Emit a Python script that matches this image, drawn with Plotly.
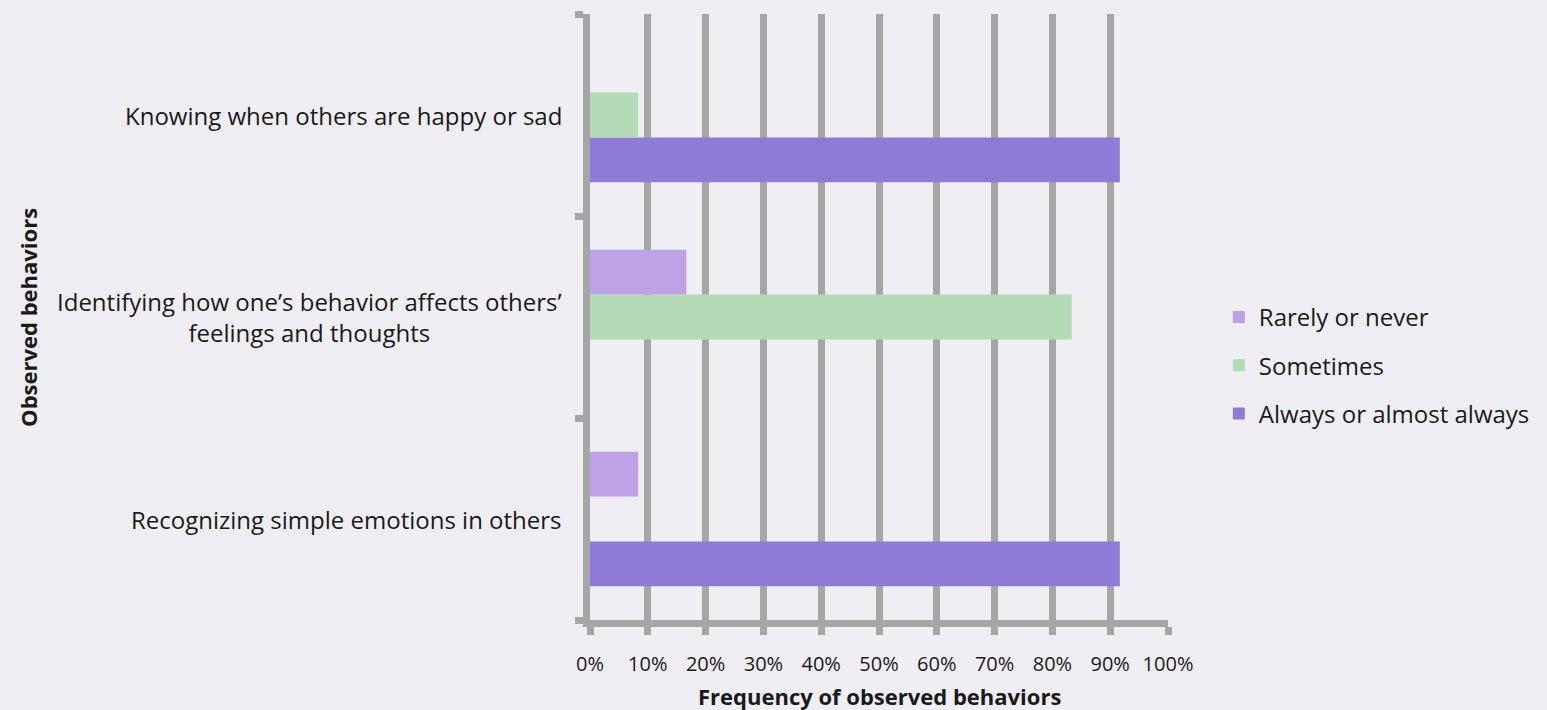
import plotly.graph_objects as go

# Observed behaviors, bottom to top on the category axis
categories = [
    "Recognizing simple emotions in others",
    "Identifying how one’s behavior affects others’<br>feelings and thoughts",
    "Knowing when others are happy or sad",
]

# Share of observations per response (percent)
always_vals = [91.67, 0, 91.67]
sometimes_vals = [0, 83.33, 8.33]
rarely_vals = [8.33, 16.67, 0]

x_ticks = [0, 10, 20, 30, 40, 50, 60, 70, 80, 90, 100]
x_tick_labels = ["0%", "10%", "20%", "30%", "40%", "50%",
                 "60%", "70%", "80%", "90%", "100%"]

FONT = "Open Sans"
TEXT = "#1a1a1a"
GRID = "#a6a6a6"
BG = "#efeef3"

PLOT_LEFT = 589.5
PLOT_WIDTH = 582.5

# (name, values, colour, legend rank) in drawing order: first trace sits lowest
series = [
    ("Always or almost always", always_vals, "#8f7bd5", 3),
    ("Sometimes", sometimes_vals, "#b3dbb5", 2),
    ("Rarely or never", rarely_vals, "#bda2e6", 1),
]

fig = go.Figure()
for name, vals, color, rank in series:
    fig.add_trace(go.Bar(
        y=categories, x=vals, name=name, orientation="h",
        marker=dict(color=color, line=dict(width=0)),
        legendgroup=name, legendrank=rank,
    ))

# Category labels, right-aligned beside the axis with centred line breaks
for cat in categories:
    fig.add_annotation(
        x=0, xref="paper", y=cat, yref="y", text=cat, showarrow=False,
        xanchor="right", yanchor="middle", align="center", xshift=-26,
        font=dict(family=FONT, size=24, color=TEXT),
    )

fig.add_annotation(
    x=0.5, xref="paper", y=0, yref="paper", yshift=-76,
    text="<b>Frequency of observed behaviors</b>", showarrow=False,
    xanchor="center", yanchor="middle",
    font=dict(family=FONT, size=22, color=TEXT),
)
fig.add_annotation(
    x=(23 - PLOT_LEFT) / PLOT_WIDTH, xref="paper", y=0.5, yref="paper",
    textangle=-90, text="<b>Observed behaviors</b>", showarrow=False,
    xanchor="center", yanchor="middle",
    font=dict(family=FONT, size=22, color=TEXT),
)

fig.update_layout(
    width=1547, height=710,
    margin=dict(l=PLOT_LEFT, r=375, t=14, b=90),
    paper_bgcolor=BG, plot_bgcolor=BG,
    barmode="group", bargap=0.333, bargroupgap=0,
    showlegend=True,
    legend=dict(
        x=1.088, y=0.42, xanchor="left", yanchor="middle",
        traceorder="grouped", tracegroupgap=14,
        font=dict(family=FONT, size=24, color=TEXT),
        bgcolor="rgba(0,0,0,0)", itemwidth=30,
    ),
    xaxis=dict(
        range=[0, 100], tickmode="array",
        tickvals=x_ticks, ticktext=x_tick_labels,
        showgrid=True, gridcolor=GRID, gridwidth=7, zeroline=False,
        showline=True, linecolor=GRID, linewidth=7,
        ticks="outside", ticklen=8, tickwidth=7, tickcolor=GRID,
        ticklabelstandoff=12,
        tickfont=dict(family=FONT, size=20, color=TEXT),
        fixedrange=True,
    ),
    yaxis=dict(
        categoryorder="array", categoryarray=categories,
        showticklabels=False, showgrid=False, zeroline=False,
        showline=True, linecolor=GRID, linewidth=7, layer="below traces",
        ticks="outside", tickson="boundaries", ticklen=8, tickwidth=7,
        tickcolor=GRID, fixedrange=True,
    ),
    font=dict(family=FONT, color=TEXT),
)

fig.write_html("out.html")
